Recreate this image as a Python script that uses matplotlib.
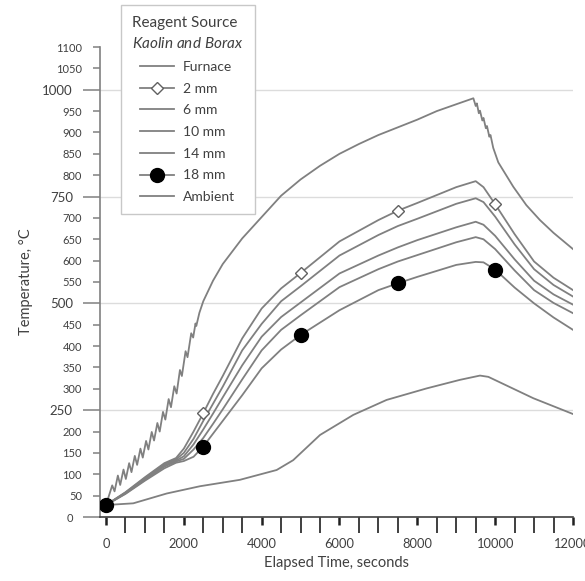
import matplotlib
matplotlib.use("Agg")
from matplotlib import pyplot as plt

plt.rcParams["font.family"] = ["Lato", "DejaVu Sans"]
plt.rcParams["mathtext.fontset"] = "custom"
plt.rcParams["mathtext.rm"] = "Lato"
plt.rcParams["mathtext.it"] = "Lato:italic"

# furnace trace (sawtooth while heating, jagged at switch-off)
furnace_t = [0, 160, 220, 305, 365, 450, 510, 595, 655, 740, 800, 885, 945,
             1030, 1090, 1175, 1235, 1320, 1380, 1465, 1525, 1610, 1670,
             1755, 1815, 1900, 1950, 2045, 2095, 2190, 2240, 2300, 2320,
             2400, 2500, 2750, 3000, 3500, 4000, 4500, 5000, 5500, 6000,
             6500, 7000, 7500, 8000, 8500, 9000, 9440, 9500, 9530, 9580,
             9610, 9670, 9700, 9760, 9790, 9850, 9880, 9950, 10080, 10465,
             10800, 11150, 11500, 12000]
furnace_T = [28, 74, 60, 97, 75, 111, 89, 126, 105, 143, 122, 160, 139,
             178, 158, 199, 179, 220, 200, 246, 228, 276, 257,
             306, 289, 344, 330, 388, 374, 430, 420, 453, 447,
             478, 505, 553, 592, 652, 702, 752, 790, 822, 850,
             873, 894, 912, 930, 950, 966, 980, 962, 968, 945,
             951, 928, 934, 910, 915, 890, 894, 864, 830, 773,
             730, 695, 665, 627]

# thermocouples in the reagent at different depths
tc_t = [0, 500, 1000, 1500, 1800, 2000, 2250, 2500, 2750, 3000, 3500, 4000,
        4500, 5000, 6000, 7000, 7500, 8000, 9000, 9500, 9700, 10000, 10500,
        11000, 11500, 12000]
mm2 = [28, 58, 93, 126, 138, 160, 200, 243, 288, 330, 418, 488, 535,
       571, 645, 695, 717, 735, 772, 786, 772, 732, 662, 598, 560, 531]
mm6 = [28, 57, 91, 124, 135, 150, 183, 225, 265, 305, 390, 452, 505,
       540, 612, 660, 681, 698, 733, 746, 737, 703, 638, 580, 543, 516]
mm10 = [28, 56, 89, 121, 132, 142, 170, 205, 242, 280, 355, 422, 468,
        502, 570, 612, 631, 648, 678, 691, 684, 658, 603, 553, 521, 497]
mm14 = [28, 55, 87, 118, 130, 136, 158, 185, 218, 252, 322, 390, 438,
        472, 538, 580, 598, 613, 643, 655, 650, 627, 577, 531, 501, 477]
mm18 = [28, 54, 85, 114, 127, 131, 141, 165, 195, 225, 285, 348, 392,
        426, 484, 531, 547, 562, 590, 597, 596, 579, 537, 500, 467, 438]
marker_idx = [0, 7, 13, 16, 21]   # t = 0, 2500, 5000, 7500, 10000

ambient_t = [0, 700, 1560, 2415, 3440, 4385, 4810, 5500, 6355, 7210, 8240,
             9095, 9610, 9825, 10980, 12000]
ambient_T = [28, 32, 55, 72, 87, 110, 133, 192, 239, 274, 301,
             321, 331, 328, 278, 241]

y_major = [0, 250, 500, 750, 1000]
y_minor = [v for v in range(50, 1101, 50) if v not in y_major]
x_labels = [0, 2000, 4000, 6000, 8000, 10000, 12000]

GREY = "#808080"
AXC = "#404040"

fig = plt.figure(figsize=(5.85, 5.81), dpi=100)
ax = fig.add_axes([100 / 585, 64 / 581, 473 / 585, 470 / 581])

lw = 1.3
ax.plot(furnace_t, furnace_T, color=GREY, lw=lw, label="Furnace", zorder=3)
ax.plot(tc_t, mm2, color=GREY, lw=lw, marker="D", ms=6, mfc="white",
        mec="#606060", mew=1.0, markevery=marker_idx, label="2 mm", zorder=4)
ax.plot(tc_t, mm6, color=GREY, lw=lw, label="6 mm", zorder=3)
ax.plot(tc_t, mm10, color=GREY, lw=lw, label="10 mm", zorder=3)
ax.plot(tc_t, mm14, color=GREY, lw=lw, label="14 mm", zorder=3)
ax.plot(tc_t, mm18, color=GREY, lw=lw, marker="o", ms=10, mfc="black",
        mec="black", markevery=marker_idx, label="18 mm", zorder=5)
ax.plot(ambient_t, ambient_T, color=GREY, lw=lw, label="Ambient", zorder=3)

ax.set_xlim(-154, 12000)
ax.set_ylim(0, 1100)

for s in ["top", "right"]:
    ax.spines[s].set_visible(False)
ax.spines["left"].set_color(GREY)
ax.spines["bottom"].set_color(AXC)
ax.spines["left"].set_linewidth(1.2)
ax.spines["bottom"].set_linewidth(1.2)

for g in [250, 500, 750, 1000]:
    ax.axhline(g, color="#dcdcdc", lw=1.0, zorder=1)

# y axis: long ticks + bigger labels every 250, short ones every 50
ax.set_yticks(y_major, labels=[str(v) for v in y_major])
ax.set_yticks(y_minor, labels=[str(v) for v in y_minor], minor=True)
ax.tick_params(axis="y", which="major", length=12.5, width=1.1, color=GREY,
               labelsize=9.5, pad=7, labelcolor="#404040")
ax.tick_params(axis="y", which="minor", length=5, width=1.1, color=GREY,
               labelsize=8, pad=8, labelcolor="#404040")
for lab in ax.get_yticklabels():
    if lab.get_text() == "0":
        lab.set_fontsize(8)

# x axis: short thick ticks at 2000s, longer thin ones every 500
ax.set_xticks(x_labels, labels=[str(v) for v in x_labels])
ax.set_xticks([v for v in range(500, 12000, 500) if v % 2000 != 0], minor=True)
ax.tick_params(axis="x", which="major", direction="out", length=6, width=1.8,
               color="#202020", labelsize=9.3, pad=9, labelcolor="#404040")
ax.tick_params(axis="x", which="minor", direction="out", length=11.5,
               width=1.3, color="#303030")

ax.set_xlabel("Elapsed Time, seconds", fontsize=10.5, color="#404040")
ax.set_ylabel("Temperature, °C", fontsize=10.5, color="#404040")
ax.xaxis.set_label_coords(0.5, -0.084)
ax.yaxis.set_label_coords(-0.142, 0.5)

leg = ax.legend(loc="upper left", bbox_to_anchor=(121 / 585, 1 - 5 / 581),
                bbox_transform=fig.transFigure, borderaxespad=0,
                title="Reagent Source\n$\\it{Kaolin\\ and\\ Borax}$",
                fontsize=10, title_fontsize=11, frameon=True,
                fancybox=False, framealpha=1, edgecolor="#c8c8c8",
                handlelength=2.4, handletextpad=0.7, labelspacing=0.7,
                borderpad=0.8)
leg.get_frame().set_linewidth(1.0)
leg.set_zorder(10)
for t in leg.get_texts():
    t.set_color("#404040")
leg.get_title().set_color("#404040")
leg.get_title().set_linespacing(1.5)

fig.savefig("out.png", dpi=100, facecolor="white")
